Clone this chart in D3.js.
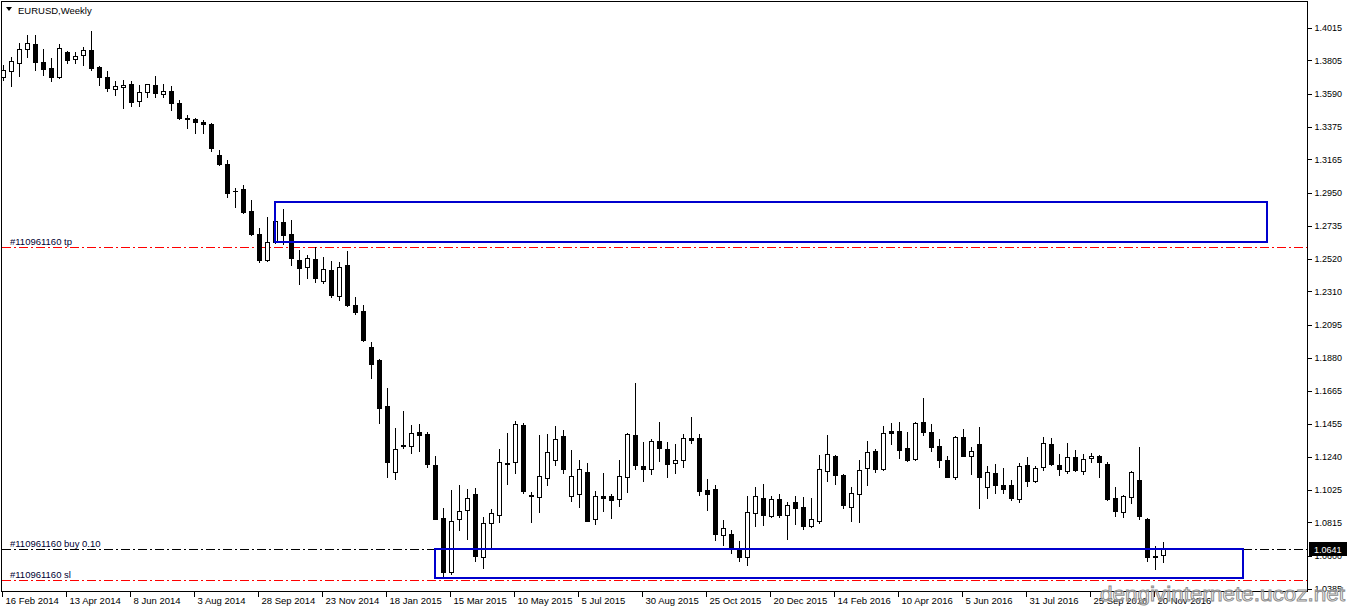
<!DOCTYPE html>
<html>
<head>
<meta charset="utf-8">
<script src="https://cdn.jsdelivr.net/npm/d3@7/dist/d3.min.js"></script>
<style>
  html, body { margin: 0; padding: 0; background: #fff; }
  svg { display: block; }
  text { font-family: "Liberation Sans", Arial, sans-serif; }
</style>
</head>
<body>
<svg id="chart" width="1348" height="612"></svg>
<script>
// ---------------- DATA (EURUSD, Weekly) ----------------
const symbolTitle = "EURUSD,Weekly";

const dateLabels = ["16 Feb 2014","13 Apr 2014","8 Jun 2014","3 Aug 2014","28 Sep 2014","23 Nov 2014",
  "18 Jan 2015","15 Mar 2015","10 May 2015","5 Jul 2015","30 Aug 2015","25 Oct 2015","20 Dec 2015",
  "14 Feb 2016","10 Apr 2016","5 Jun 2016","31 Jul 2016","25 Sep 2016","20 Nov 2016"];

const priceTicks = [1.4015,1.3805,1.3590,1.3375,1.3165,1.2950,1.2735,1.2520,1.2310,1.2095,
  1.1880,1.1665,1.1455,1.1240,1.1025,1.0815,1.0600,1.0385];

const open = [1.3698,1.3737,1.3788,1.3879,1.3911,1.3795,1.3756,1.3698,1.3860,1.3814,
  1.3840,1.3873,1.3763,1.3698,1.3620,1.3633,1.3653,1.3542,1.3601,1.3646,
  1.3588,1.3607,1.3530,1.3432,1.3429,1.3407,1.3394,1.3193,1.3135,1.2962,
  1.2973,1.2830,1.2682,1.2513,1.2630,1.2759,1.2682,1.2513,1.2468,1.2520,
  1.2377,1.2449,1.2280,1.2481,1.2222,1.2183,1.1950,1.1866,1.1568,1.1141,
  1.1316,1.1310,1.1400,1.1387,1.1187,1.0844,1.0495,1.0837,1.0895,1.0999,
  1.0592,1.0811,1.0863,1.1199,1.1206,1.1445,1.0992,1.0979,1.1102,1.1219,
  1.1374,1.0986,1.0999,1.1141,1.0837,1.0986,1.0986,1.0966,1.1109,1.1381,
  1.1180,1.1161,1.1342,1.1290,1.1199,1.1219,1.1361,1.1361,1.1025,1.1031,
  1.0734,1.0740,1.0643,1.0592,1.0876,1.0973,1.0857,1.0966,1.0863,1.0947,
  1.0915,1.0792,1.0824,1.1148,1.1245,1.1122,1.0915,1.0999,1.1167,1.1277,
  1.1161,1.1407,1.1407,1.1297,1.1225,1.1465,1.1400,1.1310,1.1219,1.1109,
  1.1368,1.1245,1.1322,1.1044,1.1135,1.1057,1.1057,1.0966,1.1187,1.1083,
  1.1174,1.1322,1.1187,1.1148,1.1238,1.1148,1.1232,1.1245,1.1193,1.0973,
  1.0883,1.0979,1.1089,1.0837,1.0598,1.0605];

const high = [1.3776,1.3827,1.3918,1.3970,1.3970,1.3879,1.3821,1.3911,1.3866,1.3860,
  1.3892,1.3996,1.3770,1.3737,1.3672,1.3678,1.3672,1.3646,1.3653,1.3704,
  1.3653,1.3640,1.3549,1.3452,1.3433,1.3420,1.3400,1.3225,1.3161,1.2979,
  1.2999,1.2902,1.2720,1.2792,1.2889,1.2843,1.2772,1.2578,1.2546,1.2598,
  1.2533,1.2507,1.2500,1.2572,1.2274,1.2222,1.1983,1.1873,1.1685,1.1426,
  1.1536,1.1445,1.1452,1.1400,1.1245,1.0908,1.1025,1.1057,1.1031,1.1038,
  1.0850,1.0902,1.1290,1.1394,1.1471,1.1458,1.1012,1.1381,1.1387,1.1439,
  1.1413,1.1284,1.1219,1.1199,1.1018,1.1135,1.0999,1.1219,1.1394,1.1717,
  1.1335,1.1355,1.1465,1.1335,1.1322,1.1387,1.1497,1.1387,1.1096,1.1057,
  1.0831,1.0766,1.0695,1.0986,1.1044,1.1064,1.0986,1.0999,1.0947,1.0986,
  1.0979,1.0973,1.1251,1.1381,1.1251,1.1128,1.1044,1.1219,1.1342,1.1290,
  1.1439,1.1458,1.1465,1.1400,1.1465,1.1620,1.1452,1.1355,1.1245,1.1374,
  1.1420,1.1303,1.1432,1.1180,1.1193,1.1167,1.1089,1.1199,1.1238,1.1180,
  1.1368,1.1361,1.1258,1.1329,1.1284,1.1258,1.1264,1.1248,1.1206,1.1044,
  1.0992,1.1148,1.1303,1.0844,1.0663,1.0689];

const low = [1.3678,1.3640,1.3704,1.3827,1.3743,1.3711,1.3672,1.3692,1.3788,1.3788,
  1.3776,1.3743,1.3646,1.3607,1.3581,1.3497,1.3510,1.3510,1.3568,1.3568,
  1.3568,1.3484,1.3426,1.3368,1.3335,1.3335,1.3219,1.3128,1.2921,1.2856,
  1.2820,1.2675,1.2500,1.2510,1.2623,1.2617,1.2481,1.2358,1.2397,1.2371,
  1.2364,1.2274,1.2254,1.2216,1.2164,1.1990,1.1750,1.1458,1.1109,1.1096,
  1.1297,1.1264,1.1277,1.1174,1.0834,1.0463,1.0482,1.0766,1.0708,1.0566,
  1.0521,1.0656,1.0818,1.1064,1.1135,1.1005,1.0818,1.0883,1.1057,1.1187,
  1.1135,1.0953,1.0915,1.0821,1.0805,1.0889,1.0844,1.0921,1.1012,1.1161,
  1.1083,1.1128,1.1212,1.1109,1.1135,1.1174,1.1329,1.0992,1.0895,1.0702,
  1.0669,1.0618,1.0566,1.0540,1.0792,1.0798,1.0850,1.0850,1.0708,1.0805,
  1.0773,1.0786,1.0811,1.1083,1.1064,1.0908,1.0824,1.0818,1.1057,1.1141,
  1.1154,1.1322,1.1232,1.1212,1.1222,1.1381,1.1277,1.1174,1.1106,1.1096,
  1.1242,1.1128,1.0908,1.0973,1.1005,1.1005,1.0960,1.0947,1.1051,1.1076,
  1.1154,1.1187,1.1122,1.1135,1.1148,1.1128,1.1206,1.1109,1.0963,1.0857,
  1.0850,1.0941,1.0837,1.0566,1.0514,1.0559];

const close = [1.3743,1.3801,1.3879,1.3918,1.3795,1.3750,1.3698,1.3886,1.3808,1.3834,
  1.3873,1.3756,1.3698,1.3627,1.3640,1.3646,1.3536,1.3601,1.3650,1.3594,
  1.3607,1.3530,1.3432,1.3429,1.3407,1.3394,1.3238,1.3135,1.2947,1.2958,
  1.2824,1.2682,1.2513,1.2630,1.2766,1.2675,1.2526,1.2462,1.2526,1.2397,
  1.2455,1.2287,1.2468,1.2222,1.2177,1.1996,1.1840,1.1555,1.1206,1.1290,
  1.1310,1.1394,1.1381,1.1193,1.0837,1.0495,1.0824,1.0889,1.0973,1.0598,
  1.0811,1.0876,1.1206,1.1196,1.1452,1.1018,1.0986,1.1115,1.1271,1.1355,
  1.1161,1.1115,1.1161,1.0824,1.0986,1.0973,1.0960,1.1115,1.1387,1.1187,
  1.1161,1.1342,1.1297,1.1193,1.1219,1.1361,1.1348,1.1018,1.0999,1.0740,
  1.0779,1.0643,1.0592,1.0883,1.0986,1.0863,1.0966,1.0863,1.0928,1.0908,
  1.0792,1.0837,1.1161,1.1258,1.1122,1.0928,1.1005,1.1154,1.1271,1.1161,
  1.1394,1.1394,1.1284,1.1219,1.1458,1.1400,1.1303,1.1219,1.1109,1.1368,
  1.1245,1.1277,1.1109,1.1141,1.1057,1.1031,1.0973,1.1180,1.1083,1.1167,
  1.1329,1.1193,1.1161,1.1238,1.1154,1.1225,1.1245,1.1206,1.0966,1.0889,
  1.0986,1.1141,1.0857,1.0592,1.0590,1.0641];

// order levels
const levelNames  = ["#110961160 tp", "#110961160 buy 0.10", "#110961160 sl"];
const levelPrices = [1.2598, 1.0646, 1.0442];
const levelColors = ["#ff0000", "#000000", "#ff0000"];
const bidPrice = 1.0641;

// rectangle zones: [startBar, endBar, top price, bottom price]
const zoneStart  = [34, 54];
const zoneEnd    = [158, 155];
const zoneTop    = [1.2889, 1.0643];
const zoneBottom = [1.2630, 1.0455];

const watermark = "dengivinternete.ucoz.net";

// ---------------- LAYOUT ----------------
const plotL = 1.5, plotT = 1.5, plotR = 1307.5, plotB = 591.5;

const svg = d3.select("#chart");

const nBars = close.length;
const x = d3.scaleLinear().domain([0, 163]).range([3.3, 3.3 + 8 * 163]);
const y = d3.scaleLinear().domain([1.03645, 1.41962]).range([592, 0]);

svg.append("defs").append("clipPath").attr("id", "plotclip")
  .append("rect").attr("x", 2).attr("y", 2).attr("width", 1305).attr("height", 589);

const plot = svg.append("g").attr("clip-path", "url(#plotclip)");

// order level lines (below candles)
levelPrices.forEach((p, k) => {
  const yy = Math.round(y(p)) + 0.5;
  plot.append("line")
    .attr("x1", 2).attr("x2", 1308).attr("y1", yy).attr("y2", yy)
    .style("stroke", levelColors[k]).style("stroke-width", "1px")
    .style("stroke-dasharray", "9,3,2,3")
    .attr("shape-rendering", "crispEdges");
});

// candles
const bars = d3.range(nBars).map(i => ({ i, o: open[i], h: high[i], l: low[i], c: close[i] }));
const cg = plot.append("g").attr("shape-rendering", "crispEdges");
bars.forEach(d => {
  const cx = Math.round(x(d.i)) + 0.5;
  const yh = Math.round(y(d.h)), yl = Math.round(y(d.l));
  const yTop = Math.round(y(Math.max(d.o, d.c)));
  const yBot = Math.round(y(Math.min(d.o, d.c)));
  cg.append("line").attr("x1", cx).attr("x2", cx).attr("y1", yh).attr("y2", yl + 1)
    .attr("stroke", "#000").attr("stroke-width", 1);
  if (yBot - yTop < 1) {
    cg.append("line").attr("x1", cx - 2.5).attr("x2", cx + 2.5)
      .attr("y1", yTop + 0.5).attr("y2", yTop + 0.5)
      .attr("stroke", "#000").attr("stroke-width", 1);
  } else {
    const bull = d.c >= d.o;
    cg.append("rect")
      .attr("x", cx - 2).attr("y", yTop + 0.5)
      .attr("width", 4).attr("height", yBot - yTop)
      .attr("fill", bull ? "#fff" : "#000")
      .attr("stroke", "#000").attr("stroke-width", 1);
  }
});

// zones
zoneStart.forEach((s, k) => {
  const x0 = Math.round(x(s)), x1 = Math.round(x(zoneEnd[k]));
  const y0 = Math.round(y(zoneTop[k])), y1 = Math.round(y(zoneBottom[k]));
  plot.append("rect")
    .attr("x", x0).attr("y", y0).attr("width", x1 - x0).attr("height", y1 - y0)
    .attr("fill", "none").attr("stroke", "#0000cd").attr("stroke-width", 2)
    .attr("shape-rendering", "crispEdges");
});

// level labels
levelPrices.forEach((p, k) => {
  plot.append("text")
    .attr("x", 10).attr("y", Math.round(y(p)) - 2.5)
    .attr("font-size", "9.5px").attr("fill", "#000033")
    .text(levelNames[k]);
});

// frame
svg.append("rect")
  .attr("x", plotL).attr("y", plotT).attr("width", plotR - plotL).attr("height", plotB - plotT)
  .attr("fill", "none").attr("stroke", "#000").attr("stroke-width", 1)
  .attr("shape-rendering", "crispEdges");

// right price axis
const yAxis = d3.axisRight(y).tickValues(priceTicks).tickSize(4).tickPadding(3)
  .tickFormat(d3.format(".4f"));
const ya = svg.append("g").attr("transform", "translate(1307.5,0)").call(yAxis);
ya.select(".domain").remove();
ya.selectAll("line").attr("stroke", "#000").attr("shape-rendering", "crispEdges");
ya.selectAll("text").attr("font-size", "9px").attr("fill", "#000")
  .attr("font-family", "'Liberation Sans', Arial, sans-serif");

// bid price box
const by = Math.round(y(bidPrice));
svg.append("rect").attr("x", 1309).attr("y", by - 7).attr("width", 38).attr("height", 14)
  .attr("fill", "#000");
svg.append("text").attr("x", 1314).attr("y", by + 3.5)
  .attr("font-size", "9px").attr("fill", "#fff").text(d3.format(".4f")(bidPrice));

// bottom date axis
const tickIdx = dateLabels.map((_, k) => k * 8);
const xAxis = d3.axisBottom(x).tickValues(tickIdx).tickSize(5).tickPadding(2)
  .tickFormat((d, k) => dateLabels[k]);
const xa = svg.append("g").attr("transform", "translate(0,591.5)").call(xAxis);
xa.select(".domain").remove();
xa.selectAll(".tick").attr("transform", d => `translate(${Math.round(x(d)) - 0.5},0)`);
xa.selectAll("line").attr("stroke", "#000").attr("shape-rendering", "crispEdges");
xa.selectAll("text").attr("font-size", "9.5px").attr("fill", "#000")
  .attr("text-anchor", "start").attr("x", 3).attr("dy", "0.6em")
  .attr("font-family", "'Liberation Sans', Arial, sans-serif");

// title
svg.append("path").attr("d", "M6,7 L12,7 L9,11 Z").attr("fill", "#000");
svg.append("text").attr("x", 18).attr("y", 14).attr("font-size", "9.5px").attr("fill", "#000")
  .text(symbolTitle);

// watermark
svg.append("text").attr("x", 1100).attr("y", 601)
  .attr("font-family", "'DejaVu Sans', sans-serif").attr("font-size", "20px")
  .attr("textLength", 245).attr("lengthAdjust", "spacingAndGlyphs")
  .attr("fill", "#ffffff").attr("fill-opacity", 0.45)
  .attr("stroke", "#8c8c8c").attr("stroke-width", 0.9)
  .text(watermark);
</script>
</body>
</html>
